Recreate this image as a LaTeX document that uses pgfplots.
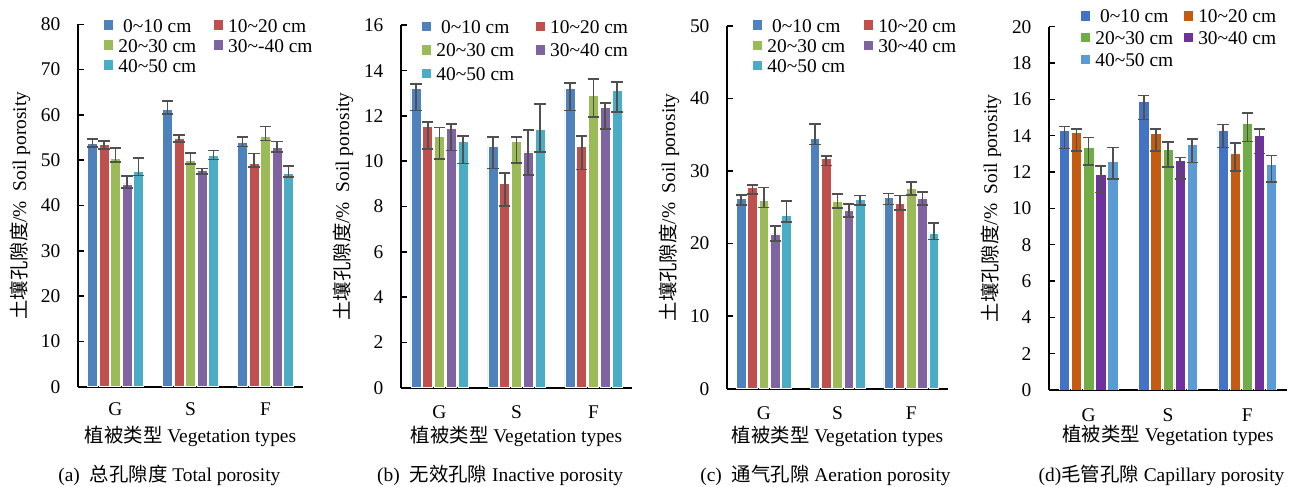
\documentclass[border=0pt]{standalone}
\usepackage{fontspec}
\setmainfont{Liberation Serif}
\newfontfamily\cjk{Noto Sans CJK SC}
\usepackage{pgfplots}
\pgfplotsset{compat=1.18}
\newcommand{\zh}[1]{{\cjk #1}}
\newcommand{\fs}{\fontsize{9.7}{11.5}\selectfont}
\newcommand{\tl}{\textasciitilde}
\definecolor{ca}{HTML}{4F81BD}
\definecolor{cb}{HTML}{C0504D}
\definecolor{cc}{HTML}{9BBB59}
\definecolor{cd}{HTML}{8064A2}
\definecolor{ce}{HTML}{4BACC6}
\definecolor{da}{HTML}{4472C4}
\definecolor{db}{HTML}{C55A11}
\definecolor{dc}{HTML}{70AD47}
\definecolor{dd}{HTML}{7030A0}
\definecolor{de}{HTML}{5B9BD5}
\definecolor{ebar}{HTML}{505050}
\pgfplotsset{
 panel/.style={
  scale only axis, anchor=south west,
  xmin=-0.5, xmax=2.5, ymin=0,
  xtick={0,1,2}, xticklabels={G,S,F},
  axis x line*=bottom, axis y line*=left,
  axis line style={line width=1pt,black},
  tick align=inside, major tick length=3pt,
  xtick style={draw=none}, ytick style={line width=0.8pt,black},
  font=\fs,
  /pgf/number format/assume math mode=true,
  yticklabel style={anchor=east, inner sep=0pt, xshift=-8.6pt, font=\fs},
  xticklabel style={anchor=center, inner sep=0pt, font=\fs},
  every axis y label/.style={at={([xshift=-29pt]axis description cs:0,0.5)}, rotate=90, anchor=center, font=\fs},
  ylabel={\zh{土壤孔隙度}/\%\ \ Soil porosity},
  xlabel={\zh{植被类型} Vegetation types},
  bar width=0.13,
  legend columns=2,
  legend cell align=left,
  legend image code/.code={\draw[#1,draw=none] (0pt,-2.35pt) rectangle (4.7pt,2.35pt);},
  legend style={draw=none, fill=none, inner sep=0pt, outer sep=0pt, at={(axis description cs:0,1)}, anchor=north west, font=\fs, nodes={inner sep=0pt, text height=7pt, text depth=0pt}, /tikz/every odd column/.append style={column sep=2.5pt}},
 },
 bars/.style={ybar, bar shift=0, fill=#1, draw=white, line width=0.3pt,
  error bars/y dir=both, error bars/y explicit,
  error bars/error bar style={line width=0.8pt, ebar},
  error bars/error mark options={rotate=90, mark size=2.8pt, line width=0.8pt, ebar}},
}
\begin{document}
\begin{tikzpicture}
\useasboundingbox (0,0) rectangle (646pt,243.5pt);
% ---------- (a)
\begin{axis}[panel, at={(39pt,50.15pt)}, width=112.5pt, height=181.2pt, ymax=80, ytick={0,10,...,80},
 xticklabel style={yshift=-11.2pt},
 every axis x label/.style={at={([yshift=-25pt]axis description cs:0.5,0)}, anchor=center, font=\fs},
 legend style={xshift=13pt, yshift=3.15pt, row sep=3pt, /tikz/every even column/.append style={column sep=8.8pt}}]
\addplot[bars=ca] coordinates {(-0.306,53.74) += (0,0.95) -= (0,0.88) (0.694,61.16) += (0,1.92) -= (0,0.95) (1.694,53.96) += (0,1.11) -= (0,0.96)};
\addlegendentry{\hspace{2.4pt}0\tl10 cm}
\addplot[bars=cb] coordinates {(-0.153,53.44) += (0,0.81) -= (0,0.96) (0.847,54.91) += (0,0.59) -= (0,0.88) (1.847,49.32) += (0,2.13) -= (0,0.88)};
\addlegendentry{10\tl20 cm}
\addplot[bars=cc] coordinates {(0,50.43) += (0,2.2) -= (0,0.89) (1,49.99) += (0,1.61) -= (0,0.89) (2,55.29) += (0,2.11) -= (0,0.97)};
\addlegendentry{20\tl30 cm}
\addplot[bars=cd] coordinates {(0.153,44.76) += (0,1.76) -= (0,0.96) (1.153,47.78) += (0,0.36) -= (0,0.88) (2.153,52.86) += (0,1.24) -= (0,1.11)};
\addlegendentry{30\tl-40 cm}
\addplot[bars=ce] coordinates {(0.306,47.47) += (0,2.96) -= (0,0.88) (1.306,51.09) += (0,1.01) -= (0,0.97) (2.306,47.12) += (0,1.61) -= (0,0.89)};
\addlegendentry{40\tl50 cm}
\end{axis}
% ---------- (b)
\begin{axis}[panel, at={(200.5pt,49.65pt)}, width=115.5pt, height=181.2pt, ymax=16, ytick={0,2,...,16},
 xticklabel style={yshift=-12pt},
 every axis x label/.style={at={([yshift=-24.5pt]axis description cs:0.5,0)}, anchor=center, font=\fs},
 legend style={xshift=10.5pt, yshift=2.8pt, row sep=4.65pt, /tikz/every even column/.append style={column sep=10.8pt}}]
\addplot[bars=ca] coordinates {(-0.306,13.22) += (0,0.18) -= (0,0.99) (0.694,10.66) += (0,0.41) -= (0,0.99) (1.694,13.22) += (0,0.22) -= (0,0.99)};
\addlegendentry{\hspace{2.4pt}0\tl10 cm}
\addplot[bars=cb] coordinates {(-0.153,11.52) += (0,0.21) -= (0,0.97) (0.847,9.01) += (0,0.48) -= (0,1.0) (1.847,10.64) += (0,0.47) -= (0,1.0)};
\addlegendentry{10\tl20 cm}
\addplot[bars=cc] coordinates {(0,11.11) += (0,0.37) -= (0,1.0) (1,10.88) += (0,0.19) -= (0,0.97) (2,12.92) += (0,0.71) -= (0,0.98)};
\addlegendentry{20\tl30 cm}
\addplot[bars=cd] coordinates {(0.153,11.45) += (0,0.18) -= (0,0.97) (1.153,10.41) += (0,0.97) -= (0,1.01) (2.153,12.39) += (0,0.18) -= (0,0.98)};
\addlegendentry{30\tl40 cm}
\addplot[bars=ce] coordinates {(0.306,10.86) += (0,0.25) -= (0,0.97) (1.306,11.41) += (0,1.12) -= (0,1.0) (2.306,13.14) += (0,0.36) -= (0,0.98)};
\addlegendentry{40\tl50 cm}
\end{axis}
% ---------- (c)
\begin{axis}[panel, at={(363.5pt,49.15pt)}, width=110.5pt, height=181.35pt, ymax=50, ytick={0,10,...,50},
 xticklabel style={yshift=-12pt},
 every axis x label/.style={at={([yshift=-23.7pt]axis description cs:0.5,0)}, anchor=center, font=\fs},
 legend style={xshift=13pt, yshift=4pt, row sep=3.15pt, /tikz/every even column/.append style={column sep=9.3pt}}]
\addplot[bars=ca] coordinates {(-0.306,26.25) += (0,0.45) -= (0,0.92) (0.694,34.56) += (0,1.94) -= (0,0.92) (1.694,26.34) += (0,0.55) -= (0,0.97)};
\addlegendentry{\hspace{2.4pt}0\tl10 cm}
\addplot[bars=cb] coordinates {(-0.153,27.81) += (0,0.28) -= (0,1.01) (0.847,31.71) += (0,0.33) -= (0,0.96) (1.847,25.6) += (0,1.06) -= (0,0.96)};
\addlegendentry{10\tl20 cm}
\addplot[bars=cc] coordinates {(0,25.97) += (0,1.74) -= (0,1.01) (1,25.88) += (0,0.96) -= (0,0.97) (2,27.63) += (0,0.83) -= (0,0.93)};
\addlegendentry{20\tl30 cm}
\addplot[bars=cd] coordinates {(0.153,21.33) += (0,1.1) -= (0,0.97) (1.153,24.64) += (0,0.82) -= (0,0.97) (2.153,26.29) += (0,0.83) -= (0,0.96)};
\addlegendentry{30\tl40 cm}
\addplot[bars=ce] coordinates {(0.306,23.95) += (0,1.89) -= (0,0.97) (1.306,26.06) += (0,0.55) -= (0,0.73) (2.306,21.47) += (0,1.38) -= (0,0.92)};
\addlegendentry{40\tl50 cm}
\end{axis}
% ---------- (d)
\begin{axis}[panel, at={(524.5pt,48.5pt)}, width=119pt, height=181.65pt, ymax=20, ytick={0,2,...,20},
 xticklabel style={yshift=-12.5pt},
 every axis x label/.style={at={([yshift=-22.5pt]axis description cs:0.5,0)}, anchor=center, font=\fs},
 legend style={xshift=16pt, yshift=8.85pt, row sep=3.85pt, /tikz/every even column/.append style={column sep=5.3pt}}]
\addplot[bars=da] coordinates {(-0.306,14.27) += (0,0.24) -= (0,0.97) (0.694,15.87) += (0,0.35) -= (0,0.97) (1.694,14.31) += (0,0.31) -= (0,0.97)};
\addlegendentry{\hspace{2.4pt}0\tl10 cm}
\addplot[bars=db] coordinates {(-0.153,14.16) += (0,0.22) -= (0,0.99) (0.847,14.13) += (0,0.25) -= (0,0.98) (1.847,13.04) += (0,0.57) -= (0,0.97)};
\addlegendentry{10\tl20 cm}
\addplot[bars=dc] coordinates {(0,13.37) += (0,0.52) -= (0,0.99) (1,13.26) += (0,0.39) -= (0,0.99) (2,14.66) += (0,0.59) -= (0,0.97)};
\addlegendentry{20\tl30 cm}
\addplot[bars=dd] coordinates {(0.153,11.87) += (0,0.46) -= (0,0.99) (1.153,12.62) += (0,0.17) -= (0,0.99) (2.153,14.02) += (0,0.34) -= (0,0.99)};
\addlegendentry{30\tl40 cm}
\addplot[bars=de] coordinates {(0.306,12.59) += (0,0.77) -= (0,0.98) (1.306,13.52) += (0,0.31) -= (0,0.99) (2.306,12.44) += (0,0.46) -= (0,0.99)};
\addlegendentry{40\tl50 cm}
\end{axis}
% ---------- captions
\node[anchor=base west, inner sep=0pt, font=\fs] at (29pt,2.65pt) {(a)\hspace{5pt}\zh{总孔隙度} Total porosity};
\node[anchor=base west, inner sep=0pt, font=\fs] at (188.35pt,2.65pt) {(b)\hspace{5pt}\zh{无效孔隙} Inactive porosity};
\node[anchor=base west, inner sep=0pt, font=\fs] at (350pt,2.65pt) {(c)\hspace{5pt}\zh{通气孔隙} Aeration porosity};
\node[anchor=base west, inner sep=0pt, font=\fs] at (519.15pt,2.65pt) {(d)\zh{毛管孔隙} Capillary porosity};
\end{tikzpicture}
\end{document}
